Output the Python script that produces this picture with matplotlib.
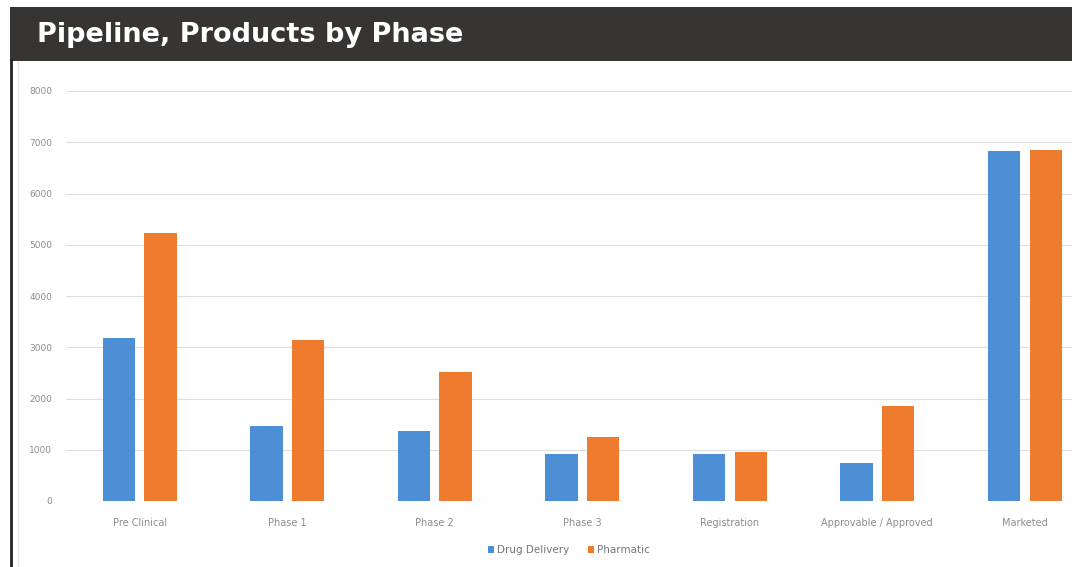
import matplotlib.pyplot as plt
import numpy as np
from matplotlib.patches import Rectangle
from matplotlib.lines import Line2D

phases = ["Pre Clinical", "Phase 1", "Phase 2", "Phase 3", "Registration",
          "Approvable / Approved", "Marketed"]
drug_delivery = [3180, 1460, 1370, 920, 920, 740, 6830]
pharmatic = [5230, 3140, 2520, 1250, 960, 1850, 6850]
y_ticks = [0, 1000, 2000, 3000, 4000, 5000, 6000, 7000, 8000]

blue = "#4d8fd5"
orange = "#ee7b2e"

fig = plt.figure(figsize=(10.72, 5.67), dpi=100)
fig.patch.set_facecolor("white")

# dark title banner and left frame line
fig.patches.append(Rectangle((10 / 1072, 1 - 61 / 567), 1 - 10 / 1072, 54 / 567,
                             transform=fig.transFigure, facecolor="#363533",
                             edgecolor="none", zorder=0))
fig.text(37 / 1072, 1 - 35 / 567, "Pipeline, Products by Phase", color="white",
         fontsize=19.5, fontweight="bold", va="center", ha="left",
         family="DejaVu Sans")
fig.add_artist(Line2D([11 / 1072, 11 / 1072], [0, 1 - 60 / 567],
                      transform=fig.transFigure, color="#222222", lw=2))
fig.add_artist(Line2D([18 / 1072, 18 / 1072], [0, 1 - 62 / 567],
                      transform=fig.transFigure, color="#e4e4e4", lw=1))

ax = fig.add_axes([66 / 1072, 1 - 501 / 567, 1 - 66 / 1072, (501 - 91) / 567])
x = np.arange(len(phases))
w = 0.22
off = 0.142
ax.bar(x - off, drug_delivery, w, color=blue, zorder=3, label="Drug Delivery")
ax.bar(x + off, pharmatic, w, color=orange, zorder=3, label="Pharmatic")

ax.set_xlim(-0.5, 6.32)
ax.set_ylim(0, 8000)
ax.set_yticks(y_ticks)
ax.set_yticklabels([str(v) for v in y_ticks], color="#8c8c8c", fontsize=6.5)
ax.set_xticks(x)
ax.set_xticklabels(phases, color="#8c8c8c", fontsize=7)
ax.tick_params(axis="both", length=0)
ax.tick_params(axis="y", pad=10)
ax.tick_params(axis="x", pad=12)
ax.grid(axis="y", color="#dedede", lw=0.8, zorder=0)
for s in ax.spines.values():
    s.set_visible(False)

ax.legend(loc="upper center", bbox_to_anchor=(0.5, -0.085), ncol=2, frameon=False,
          fontsize=7.5, handlelength=0.6, handleheight=0.6, handletextpad=0.3,
          columnspacing=1.8, labelcolor="#777777")

fig.savefig("out.png", dpi=100)
